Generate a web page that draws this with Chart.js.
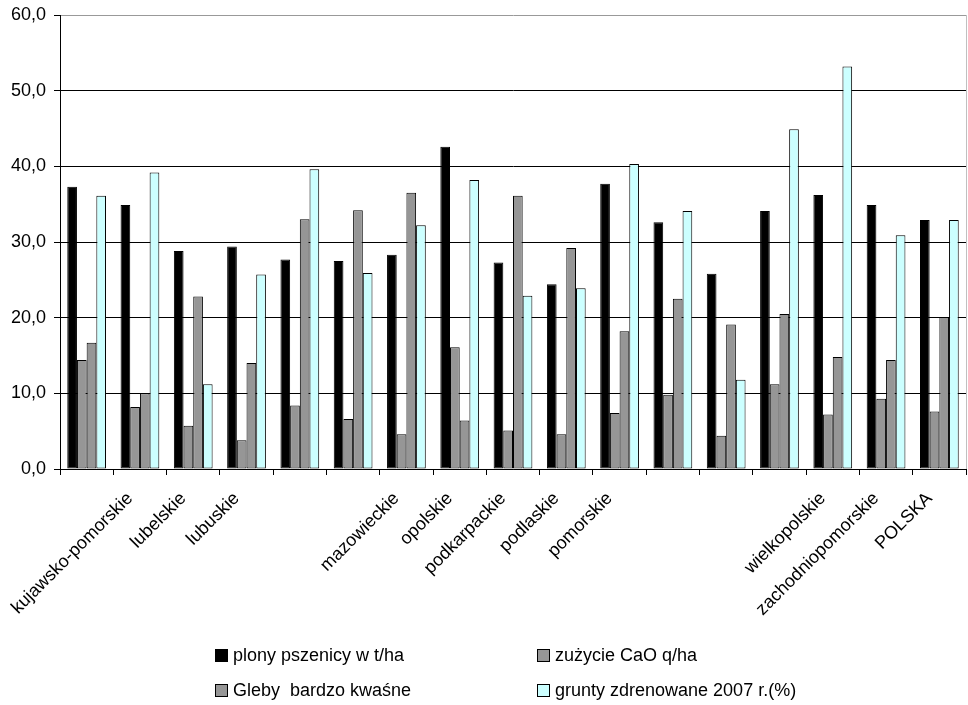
<!DOCTYPE html>
<html>
<head>
<meta charset="utf-8">
<script src="https://cdn.jsdelivr.net/npm/chart.js@4/dist/chart.umd.min.js"></script>
<style>
  html, body { margin: 0; padding: 0; background: #fff; }
  #wrap { position: relative; width: 968px; height: 705px; }
  #legend { position: absolute; left: 0; top: 0; width: 968px; height: 705px; pointer-events: none;
            font-family: 'Liberation Sans', Arial, sans-serif; font-size: 18px; color: #000; }
  .item { position: absolute; display: flex; align-items: center; white-space: pre; height: 20px; }
  .box { width: 13px; height: 13px; border: 1px solid #000; margin-right: 5px; box-sizing: border-box; }
</style>
</head>
<body>
<div id="wrap">
  <canvas id="c" width="968" height="705"></canvas>
  <div id="legend"></div>
</div>
<script>
const categories = ['dolnośląskie', 'kujawsko-pomorskie', 'lubelskie', 'lubuskie', 'łódzkie', 'małopolskie',
  'mazowieckie', 'opolskie', 'podkarpackie', 'podlaskie', 'pomorskie', 'śląskie', 'świętokrzyskie',
  'warmińsko-mazurskie', 'wielkopolskie', 'zachodniopomorskie', 'POLSKA'];
const tickLabels = ['', 'kujawsko-pomorskie', 'lubelskie', 'lubuskie', '', '',
  'mazowieckie', 'opolskie', 'podkarpackie', 'podlaskie', 'pomorskie', '', '',
  '', 'wielkopolskie', 'zachodniopomorskie', 'POLSKA'];
const seriesNames = ['plony pszenicy w t/ha', 'zużycie CaO q/ha', 'Gleby  bardzo kwaśne', 'grunty zdrenowane 2007 r.(%)'];
const plony  = [37.3, 34.9, 28.8, 29.4, 27.7, 27.5, 28.3, 42.6, 27.3, 24.4, 37.7, 32.6, 25.8, 34.1, 36.2, 34.9, 32.9];
const cao    = [14.4, 8.2, 5.7, 3.8, 8.4, 6.6, 4.6, 16.1, 5.1, 4.6, 7.4, 9.8, 4.4, 11.2, 7.2, 9.3, 7.6];
const gleby  = [16.7, 10.0, 22.8, 14.0, 33.0, 34.2, 36.5, 6.4, 36.1, 29.2, 18.2, 22.5, 19.1, 20.5, 14.8, 14.4, 20.1];
const grunty = [36.1, 39.2, 11.2, 25.7, 39.6, 25.9, 32.2, 38.2, 22.9, 23.9, 40.3, 34.1, 11.8, 44.9, 53.2, 30.9, 32.9];
const yTicks = [0, 10, 20, 30, 40, 50, 60];

const colors = ['#000000', '#969696', '#969696', '#CCFFFF'];
const seriesData = [plony, cao, gleby, grunty];
const FONT = "'Liberation Sans', Arial, sans-serif";

const rightBorder = {
  id: 'rightBorder',
  afterDraw(chart) {
    const a = chart.chartArea, ctx = chart.ctx;
    ctx.save();
    ctx.strokeStyle = '#c0c0c0';
    ctx.lineWidth = 1;
    ctx.beginPath();
    ctx.moveTo(Math.round(a.right) + 0.5, a.top);
    ctx.lineTo(Math.round(a.right) + 0.5, a.bottom);
    ctx.stroke();
    ctx.restore();
  }
};

new Chart(document.getElementById('c'), {
  type: 'bar',
  data: {
    labels: categories,
    datasets: seriesNames.map((n, i) => ({
      label: n,
      data: seriesData[i],
      backgroundColor: colors[i],
      borderColor: '#000',
      borderWidth: 1,
      borderSkipped: false,
      categoryPercentage: 0.727,
      barPercentage: 1.0
    }))
  },
  options: {
    responsive: false,
    animation: false,
    devicePixelRatio: 1,
    layout: { padding: { top: 15, right: 2, left: 0, bottom: 0 } },
    plugins: { legend: { display: false }, tooltip: { enabled: false } },
    scales: {
      x: {
        offset: true,
        grid: { offset: true, drawOnChartArea: false, color: '#000', tickLength: 6 },
        border: { color: '#000', width: 1 },
        ticks: {
          autoSkip: false, maxRotation: 45, minRotation: 45, padding: 13, labelOffset: -10,
          color: '#000', font: { family: FONT, size: 18 },
          callback: (v, i) => tickLabels[i]
        },
        afterFit(s) { s.height = 236; s.paddingLeft = 0; s.paddingRight = 0; }
      },
      y: {
        min: 0, max: 60,
        afterBuildTicks(s) { s.ticks = yTicks.map(v => ({ value: v })); },
        grid: {
          color: (ctx) => (ctx.tick && ctx.tick.value === 60) ? '#999999' : '#000000',
          tickColor: '#000', tickLength: 6
        },
        border: { color: '#000', width: 1 },
        ticks: {
          padding: 8, color: '#000', font: { family: FONT, size: 18 },
          callback: (v) => v.toFixed(1).replace('.', ',')
        },
        afterFit(s) { s.width = 60; s.paddingTop = 0; s.paddingBottom = 0; }
      }
    }
  },
  plugins: [rightBorder]
});

// legend (two columns, two rows)
const legendPos = [[215, 645], [537, 645], [215, 680], [537, 680]];
const lg = document.getElementById('legend');
seriesNames.forEach((n, i) => {
  const d = document.createElement('div');
  d.className = 'item';
  d.style.left = legendPos[i][0] + 'px';
  d.style.top = legendPos[i][1] + 'px';
  const b = document.createElement('span');
  b.className = 'box';
  b.style.background = colors[i];
  const t = document.createElement('span');
  t.textContent = n;
  d.appendChild(b); d.appendChild(t);
  lg.appendChild(d);
});
</script>
</body>
</html>
